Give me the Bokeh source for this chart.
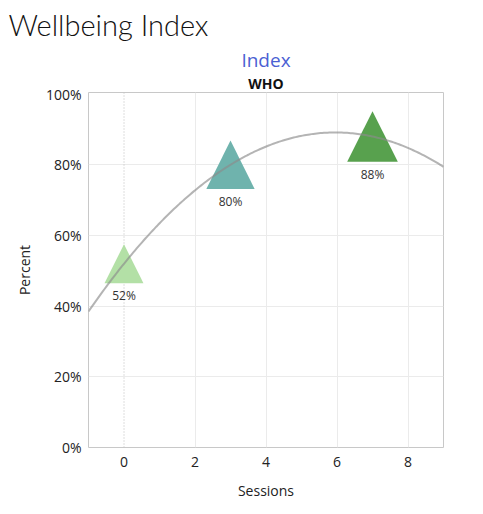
import numpy as np
from bokeh.plotting import figure
from bokeh.models import (LabelSet, Span, FixedTicker, Title,
                          NumeralTickFormatter, ColumnDataSource)
from bokeh.core.properties import value
from bokeh.embed import file_html
from bokeh.resources import INLINE

# Data
sessions = [0, 3, 7]
percent = [0.52, 0.80, 0.88]
point_labels = ["52%", "80%", "88%"]
point_colors = ["#b3e0a6", "#6fb3ad", "#58a14e"]
x_ticks = [0, 2, 4, 6, 8]
y_ticks = [0, 0.2, 0.4, 0.6, 0.8, 1.0]

W, H = 483, 514
LEFT, RIGHT, TOP, BOTTOM = 88, 40, 92, 67
X0, X1 = -1, 9
Y0, Y1 = 0, 1.0045
FONT = "Open Sans"

p = figure(width=W, height=H, x_range=(X0, X1), y_range=(Y0, Y1), title=None,
           output_backend="svg", toolbar_location=None,
           min_border_left=LEFT, min_border_right=RIGHT,
           min_border_top=TOP, min_border_bottom=BOTTOM,
           background_fill_color="white", border_fill_color="white")

# pixel scale of the frame, used to size the triangle marks in pixels
fx = (W - LEFT - RIGHT) / (X1 - X0)
fy = (H - TOP - BOTTOM) / (Y1 - Y0)

# triangle area proportional to the value
sides = [54 * np.sqrt(v) for v in percent]
xs, ys = [], []
for x, y, s in zip(sessions, percent, sides):
    dx = s / 2 / fx
    dy = s / 2 / fy
    xs.append([x - dx, x + dx, x])
    ys.append([y - dy, y - dy, y + dy])

src = ColumnDataSource(dict(xs=xs, ys=ys, color=point_colors, x=sessions, y=percent,
                            label=point_labels, off=[-(s / 2 + 4) for s in sides]))

# zero line for sessions
p.add_layout(Span(location=0, dimension="height", line_color="#bdbdbd",
                  line_dash="1 2", line_width=1, level="underlay"))

p.patches("xs", "ys", source=src, fill_color="color", line_color=None)

# quadratic trend through the points
coef = np.polyfit(sessions, percent, 2)
xt = np.linspace(X0, X1, 200)
p.line(xt, np.polyval(coef, xt), line_color="#8c8c8c", line_alpha=0.65, line_width=2)

p.add_layout(LabelSet(x="x", y="y", text="label", source=src, y_offset="off",
                      text_align="center", text_baseline="top",
                      text_font=value(FONT), text_font_size="12px", text_color="#333333"))

# grids
p.xgrid.ticker = FixedTicker(ticks=[2, 4, 6, 8])
p.xgrid.grid_line_color = "#ebebeb"
p.ygrid.ticker = FixedTicker(ticks=[0.2, 0.4, 0.6, 0.8])
p.ygrid.grid_line_color = "#ebebeb"
p.outline_line_color = "#c8c8c8"

# axes
for ax in (p.xaxis[0], p.yaxis[0]):
    ax.axis_line_color = None
    ax.major_tick_line_color = None
    ax.minor_tick_line_color = None
    ax.major_tick_out = 0
    ax.major_tick_in = 0
    ax.minor_tick_out = 0
    ax.minor_tick_in = 0
    ax.major_label_text_font = FONT
    ax.major_label_text_font_size = "14px"
    ax.major_label_text_color = "#222222"
    ax.axis_label_text_font = FONT
    ax.axis_label_text_font_size = "14px"
    ax.axis_label_text_font_style = "normal"
    ax.axis_label_text_color = "#222222"

p.xaxis.ticker = FixedTicker(ticks=x_ticks)
p.xaxis.axis_label = "Sessions"
p.xaxis.major_label_standoff = 9
p.xaxis.axis_label_standoff = 11

p.yaxis.ticker = FixedTicker(ticks=y_ticks)
p.yaxis.formatter = NumeralTickFormatter(format="0%")
p.yaxis.axis_label = "Percent"
p.yaxis.major_label_standoff = 7
p.yaxis.axis_label_standoff = 9

# header texts, stacked upward from the plot area
p.add_layout(Title(text="WHO", text_font=FONT, text_font_size="14px",
                   text_font_style="bold", text_color="#111111",
                   align="center", standoff=0), "above")
p.add_layout(Title(text="Index", text_font=FONT, text_font_size="19px",
                   text_font_style="normal", text_color="#4b5fd3",
                   align="center", standoff=-3), "above")
p.add_layout(Title(text="Wellbeing Index", text_font="Lato Light", text_font_size="29px",
                   text_font_style="normal", text_color="#111111",
                   align="left", offset=-80, standoff=9), "above")

open("out.html", "w").write(file_html(p, INLINE))
